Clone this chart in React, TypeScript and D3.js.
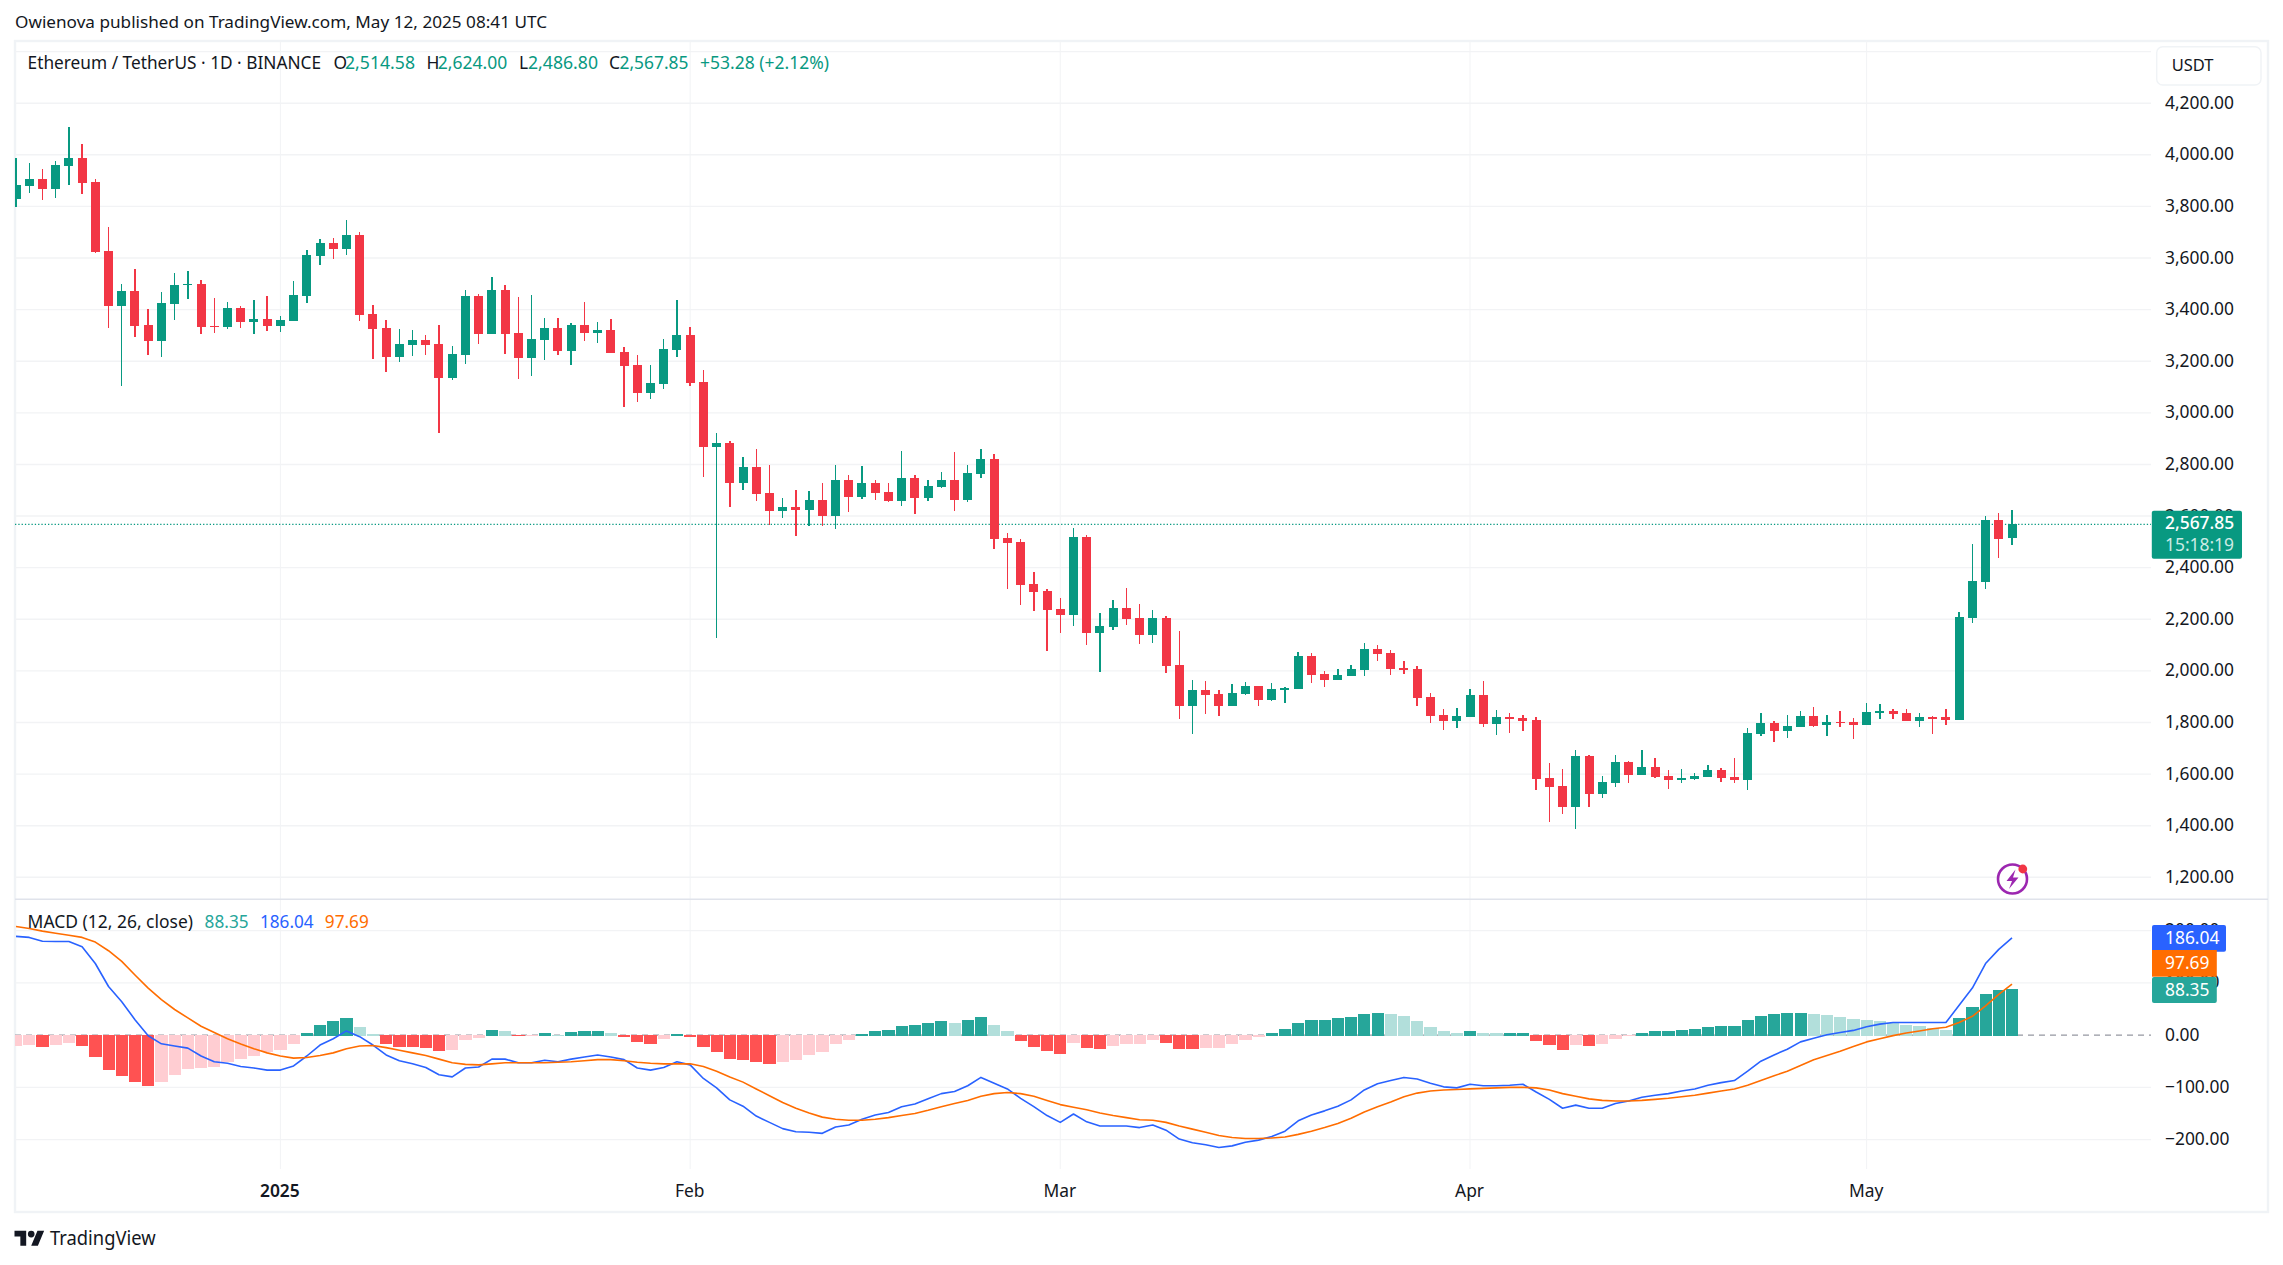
import React from "react";
import * as d3 from "d3";

// ---------- data (Dec 12 2024 .. May 12 2025, daily) ----------
const firstDay = new Date(Date.UTC(2024, 11, 12));
const lastDay = new Date(Date.UTC(2025, 4, 12));

const opens = [3829,3880,3907,3868,3957,3988,3895,3627,3414,3472,3341,3279,3422,3496,3500,3337,3333,3407,3352,3364,
3337,3356,3453,3608,3659,3635,3690,3383,3329,3217,3263,3283,3267,3135,3224,3453,3306,3476,3310,3213,3283,3329,3240,3341,3310,3321,3236,3186,3077,3112,3244,3302,3120,2868,2883,2728,2790,
2690,2620,2635,2624,2663,2600,2740,2674,2728,2694,2659,2748,2670,2713,2740,2663,2763,2821,2515,2500,2337,2310,2240,2217,2519,2147,2170,2244,2205,2139,2205,2023,1864,1926,1911,1864,1911,1942,1887,1926,1930,2058,1988,1965,1980,2004,2085,2069,2011,2007,1899,1829,1806,1821,1907,
1794,1821,1818,1810,1585,1554,1473,1670,1523,1566,1647,1597,1628,1593,1577,1581,1589,1616,1589,1577,1755,1798,1767,1783,1825,1790,1802,1802,1790,1837,1845,1837,1806,1821,1821,1810,2205,2345,2585,2514.58];

const closes = [3883,3907,3868,3961,3988,3891,3624,3414,3472,3337,3279,3426,3496,3500,3333,3333,3407,3352,3364,3337,
3360,3457,3612,3659,3635,3690,3379,3325,3217,3267,3283,3263,3135,3228,3453,3306,3476,3306,3213,3286,3329,3240,3341,3310,3321,3232,3182,3077,3116,3248,3302,3116,2868,2883,2728,2790,2686,
2620,2635,2624,2663,2600,2740,2674,2728,2690,2659,2748,2670,2717,2740,2663,2767,2821,2511,2496,2333,2306,2236,2217,2519,2147,2174,2244,2201,2139,2205,2019,1864,1926,1907,1864,1914,1942,1887,1930,1934,2058,1984,1965,1984,2007,2085,2066,2007,2004,1895,1825,1806,1825,1907,1794,
1821,1818,1806,1581,1550,1473,1670,1523,1569,1647,1597,1628,1589,1577,1585,1593,1616,1585,1577,1759,1798,1767,1787,1825,1787,1802,1798,1790,1841,1845,1833,1806,1821,1818,1810,2209,2349,2585,2511,2567.85];

const highs = [3989,3969,3945,3976,4108,4042,3907,3720,3500,3558,3403,3469,3542,3550,3515,3445,3430,3414,3438,3453,
3376,3511,3631,3674,3678,3748,3701,3418,3360,3325,3321,3302,3341,3259,3476,3461,3527,3496,3449,3457,3368,3368,3348,3430,3352,3364,3255,3224,3186,3286,3438,3333,3166,2922,2891,2829,2860,
2798,2670,2701,2697,2728,2798,2759,2794,2740,2728,2852,2759,2740,2771,2849,2798,2860,2841,2535,2511,2383,2318,2283,2554,2527,2225,2275,2321,2259,2236,2213,2155,1965,1961,1926,1949,1957,1942,1953,1938,2073,2069,2000,2007,2023,2108,2100,2081,2038,2019,1914,1852,1856,1930,1961,
1849,1837,1829,1821,1643,1620,1693,1674,1593,1674,1651,1693,1662,1616,1620,1604,1635,1624,1662,1779,1837,1806,1829,1845,1860,1829,1845,1818,1876,1872,1852,1852,1837,1825,1852,2228,2492,2600,2612,2624];

const lows = [3799,3852,3825,3833,3883,3848,3620,3329,3104,3294,3224,3217,3360,3441,3306,3310,3325,3329,3306,3317,
3314,3356,3426,3573,3597,3612,3356,3209,3158,3197,3220,3224,2922,3127,3190,3267,3306,3228,3131,3143,3205,3224,3186,3279,3271,3232,3023,3042,3054,3093,3217,3104,2752,2128,2635,2701,2659,
2566,2593,2523,2562,2562,2550,2616,2666,2663,2655,2639,2608,2659,2709,2620,2655,2748,2473,2318,2256,2232,2077,2147,2174,2100,1996,2159,2178,2104,2108,1992,1814,1756,1833,1825,1864,1907,1864,1883,1876,1930,1953,1938,1965,1980,1980,2038,1984,1988,1864,1798,1771,1779,1821,1783,
1752,1759,1767,1538,1414,1445,1387,1473,1507,1550,1566,1597,1585,1542,1566,1577,1589,1569,1566,1538,1748,1725,1740,1783,1783,1748,1783,1736,1790,1814,1814,1806,1783,1755,1790,1810,2186,2318,2438,2486.8];

const histogram = [-20.5,-18.6,-22.4,-18.6,-14.7,-20.5,-41.7,-66.7,-78.2,-89.7,-97.4,-89.7,-76.3,-64.7,-62.8,-60.9,-51.3,-45.5,-39.7,-32,
-28,-16.7,4.5,19.9,27.6,33.3,16,2.6,-16.7,-22.4,-22.6,-24.4,-30.1,-28.2,-9,-5,10.3,8.3,-1.3,-1.3,4.5,0.6,6.4,8.3,8.3,4.5,-3.2,-12.8,-16.7,-7,2.6,-3.2,-22.4,-32,-45.5,-47.4,-51.3,
-55.1,-51.3,-47.4,-37.8,-32,-16.7,-9,2.6,8.3,10.3,17.9,19.9,23.7,27.6,23.7,29.5,35.3,19.9,8.3,-10.9,-22.4,-30.1,-35.9,-14.7,-24.4,-26.3,-20.5,-16.7,-16.5,-9,-14.7,-26.3,-26.6,-24.4,-24.2,-16.7,-9,-3.2,4.5,12.2,23.7,29.5,29.5,33.3,35.3,41,42.9,41,37.2,27.6,16,8.3,4.5,8.3,4.5,4.3,4.5,
4.5,-10.9,-18.6,-28.2,-18.6,-20.5,-16.7,-7,-1.3,4.5,8.3,8.3,10.3,12.2,16,17.9,17.9,29.5,37.2,41,42.9,42.9,41,39.1,35.3,31.4,29.5,27.6,23.7,19.9,17.9,14.1,10.3,33.3,54.5,79.5,87.2,88.35];

const macdLine = [189,187,179.5,179,179,169,137,93,64,29.5,-1.3,-16.7,-21,-25,-40,-51,-54,-60,-63,-67,
-67,-59,-40,-19,-7,8,-3,-19,-38,-49,-55,-62,-76,-80,-63,-61,-46,-46,-53,-53,-48,-51,-46,-42,-38,-42,-47,-63,-67,-62,-51,-57,-83,-101,-124,-136,-155,
-167,-179,-185,-186,-188,-176,-172,-161,-153,-148,-137,-132,-122,-112,-108,-97,-81,-92,-103,-121,-137,-154,-167,-151,-166,-174,-174,-174,-177,-172,-182,-199,-206,-210,-215,-212,-205,-201,-194,-184,-164,-153,-145,-136,-124,-105,-93,-87,-81,-84,-92,-99,-101,-94,-97,-97,-96,
-94,-109,-123,-140,-134,-140,-140,-131,-126,-119,-115,-112,-107,-103,-96,-91,-87,-69,-50,-38,-27,-13,-6,0.6,5,9,16,21,24,24,24,24,24,57,90,137,164,186.04];

const signalLine = [208,204,199,195,191,187,178,161.5,141,115,90,68,49,33,17,5,-7,-17,-26,-34,
-40,-44,-43,-39,-34,-26,-21,-20,-24,-29,-34,-39,-46,-53,-56,-57,-55,-53,-53,-53,-53,-52,-51,-49,-47,-47,-49,-52,-54,-55,-55,-55,-60,-69,-80,-90,-103,
-116,-129,-140,-149,-157,-161,-163,-163,-161,-158,-154,-150,-144,-137,-131,-125,-117,-112,-110,-112,-117,-125,-133,-138,-143,-149,-154,-158,-162,-163,-167,-174,-180,-186,-192,-196,-198,-198,-197,-195,-190,-184,-177,-169,-159,-147,-137,-128,-118,-111,-107,-105,-104,-103,-102,-101,-100,
-100,-101,-105,-112,-117,-122,-125,-126,-126,-125,-123,-121,-118,-115,-111,-107,-103,-96,-87,-78,-69,-58,-47,-39,-31,-22,-13,-7,-1,4,8,12,15,24,36,56,78,97.69];

const priceTicks = [4200,4000,3800,3600,3400,3200,3000,2800,2600,2400,2200,2000,1800,1600,1400,1200];
const priceGrid = [4400, ...priceTicks];
const macdTicks = [200,100,0,-100,-200];
const timeTicks = [
  { label: "2025", date: new Date(Date.UTC(2025, 0, 1)), strong: true },
  { label: "Feb", date: new Date(Date.UTC(2025, 1, 1)), strong: false },
  { label: "Mar", date: new Date(Date.UTC(2025, 2, 1)), strong: false },
  { label: "Apr", date: new Date(Date.UTC(2025, 3, 1)), strong: false },
  { label: "May", date: new Date(Date.UTC(2025, 4, 1)), strong: false },
];
const lastClose = 2567.85;

// ---------- styling ----------
const UP = "#089981", DOWN = "#F23645";
const H_UP = "#26a69a", H_UP_L = "#b2dfdb", H_DN = "#ff5252", H_DN_L = "#ffcdd2";
const BLUE = "#2962ff", ORANGE = "#ff6d00";
const INK = "#131722", GRID = "#f2f3f5", FRAME = "#f0f3f6", DIVIDER = "#e0e3eb";
const FONT = "'Noto Sans', sans-serif";
const FS = 17.4;
const TEXT_SHIFT = -1.4;

const L = 15, R = 2268, T = 41, B = 1212, PANE_R = 2151;

const days = d3.utcDay.range(firstDay, d3.utcDay.offset(lastDay, 1));
const x = d3.scaleUtc().domain([firstDay, lastDay]).range([16, 2012]);
const yP = d3.scaleLinear().domain([4400, 1200]).range([51.6, 877.3]);
const yM = d3.scaleLinear().domain([200, -200]).range([930.6, 1139.6]);
const fmt = d3.format(",.2f");

const macdPath = d3.line<number>().x((_, i) => x(days[i])).y((d) => yM(d))(macdLine) as string;
const signalPath = d3.line<number>().x((_, i) => x(days[i])).y((d) => yM(d))(signalLine) as string;

function Txt(p: { x: number; y: number; fill?: string; w?: number; size?: number; weight?: number; anchor?: string; children: any }) {
  const extra: any = p.w ? { textLength: p.w, lengthAdjust: "spacingAndGlyphs" } : {};
  return (
    <text x={p.x} y={p.y + TEXT_SHIFT} dominantBaseline="central" fill={p.fill ?? INK} fontSize={p.size ?? FS}
      fontWeight={p.weight ?? 400} textAnchor={(p.anchor ?? "start") as any} fontFamily={FONT} {...extra}>
      {p.children}
    </text>
  );
}

export default function App() {
  return (
    <svg width={2283} height={1265} viewBox="0 0 2283 1265"
      style={{ position: "absolute", left: 0, top: 0, display: "block", background: "#ffffff" }}>
      <defs>
        <clipPath id="pane"><rect x={L} y={T} width={PANE_R - L} height={B - T} /></clipPath>
      </defs>

      <Txt x={15} y={23} w={532} size={17}>Owienova published on TradingView.com, May 12, 2025 08:41 UTC</Txt>

      {/* frame */}
      <rect x={L} y={T} width={R - L} height={B - T} fill="none" stroke={FRAME} strokeWidth={2.4} />

      {/* grid */}
      <g stroke={GRID} strokeWidth={1.4}>
        {priceGrid.map((t) => <line key={t} x1={L} x2={PANE_R} y1={yP(t)} y2={yP(t)} />)}
        {macdTicks.filter((t) => t !== 0).map((t) => <line key={t} x1={L} x2={PANE_R} y1={yM(t)} y2={yM(t)} />)}
      </g>
      <g stroke={GRID} strokeWidth={1}>
        {timeTicks.map((t) => <line key={t.label} x1={x(t.date)} x2={x(t.date)} y1={T} y2={1169} />)}
      </g>
      <line x1={L} x2={R} y1={899.3} y2={899.3} stroke={DIVIDER} strokeWidth={1.4} />

      {/* last price line */}
      <line x1={L} x2={PANE_R} y1={yP(lastClose)} y2={yP(lastClose)} stroke={UP} strokeWidth={1.2} strokeDasharray="1.3 2" />

      {/* candles */}
      <g clipPath="url(#pane)" shapeRendering="crispEdges">
        {days.map((d, i) => {
          const up = closes[i] >= opens[i];
          const c = up ? UP : DOWN;
          const top = yP(Math.max(opens[i], closes[i]));
          const bot = yP(Math.min(opens[i], closes[i]));
          return (
            <g key={i}>
              <line x1={x(d)} x2={x(d)} y1={yP(highs[i])} y2={yP(lows[i])} stroke={c} strokeWidth={1.4} />
              <rect x={x(d) - 4.5} y={top} width={9} height={Math.max(1.5, bot - top)} fill={c} />
            </g>
          );
        })}
      </g>

      {/* MACD zero line */}
      <line x1={L} x2={PANE_R} y1={yM(0)} y2={yM(0)} stroke="#9598a1" strokeWidth={1.2} strokeDasharray="6 5" />

      {/* histogram */}
      <g clipPath="url(#pane)" shapeRendering="crispEdges">
        {days.map((d, i) => {
          const v = histogram[i];
          const prev = i > 0 ? histogram[i - 1] : v;
          const fill = v >= 0 ? (v >= prev ? H_UP : H_UP_L) : (v < prev ? H_DN : H_DN_L);
          const y0 = yM(0) + (v >= 0 ? 1 : 0);
          const y1 = yM(v);
          return <rect key={i} x={x(d) - 6} width={12.2} y={Math.min(y0, y1)} height={Math.abs(y1 - y0)} fill={fill} />;
        })}
      </g>

      {/* MACD lines */}
      <g clipPath="url(#pane)" fill="none" strokeWidth={1.6} strokeLinejoin="round">
        <path d={macdPath} stroke={BLUE} />
        <path d={signalPath} stroke={ORANGE} />
      </g>

      {/* legend */}
      <Txt x={27.6} y={63.7} w={293.5}>Ethereum / TetherUS · 1D · BINANCE</Txt>
      <Txt x={333.5} y={63.7}>O</Txt><Txt x={345} y={63.7} fill={UP} w={70}>{fmt(opens[opens.length - 1])}</Txt>
      <Txt x={426.6} y={63.7}>H</Txt><Txt x={437.7} y={63.7} fill={UP} w={69.5}>{fmt(highs[highs.length - 1])}</Txt>
      <Txt x={519} y={63.7}>L</Txt><Txt x={528} y={63.7} fill={UP} w={70}>{fmt(lows[lows.length - 1])}</Txt>
      <Txt x={609} y={63.7}>C</Txt><Txt x={619.5} y={63.7} fill={UP} w={69}>{fmt(lastClose)}</Txt>
      <Txt x={700} y={63.7} fill={UP} w={129}>+53.28 (+2.12%)</Txt>

      <Txt x={27.6} y={922.7} w={165.4}>MACD (12, 26, close)</Txt>
      <Txt x={204.6} y={922.7} fill={H_UP} w={44}>{fmt(88.35)}</Txt>
      <Txt x={260} y={922.7} fill={BLUE} w={53.6}>{fmt(186.04)}</Txt>
      <Txt x={324.8} y={922.7} fill={ORANGE} w={44}>{fmt(97.69)}</Txt>

      {/* price axis */}
      {priceTicks.map((t) => <Txt key={t} x={2165} y={yP(t)}>{fmt(t)}</Txt>)}
      <rect x={2156.7} y={46.7} width={104.3} height={38.3} rx={6} fill="#fff" stroke={FRAME} strokeWidth={1.4} />
      <Txt x={2171.7} y={65.7} size={16.5}>USDT</Txt>

      <rect x={2151.8} y={510.7} width={90.2} height={48} rx={2} fill={UP} />
      <Txt x={2165} y={523.7} fill="#fff" weight={500}>{fmt(lastClose)}</Txt>
      <Txt x={2165} y={545} fill="#cdebe5">15:18:19</Txt>

      {/* MACD axis */}
      {macdTicks.map((t) => <Txt key={t} x={2165} y={yM(t)}>{fmt(t)}</Txt>)}
      <rect x={2152} y={925} width={74} height={26.7} rx={2} fill={BLUE} />
      <Txt x={2165} y={938.5} fill="#fff">{fmt(186.04)}</Txt>
      <rect x={2152} y={950} width={64.8} height={26.7} fill={ORANGE} />
      <Txt x={2165} y={963.5} fill="#fff">{fmt(97.69)}</Txt>
      <rect x={2152} y={977} width={64.8} height={26} rx={2} fill={H_UP} />
      <Txt x={2165} y={990} fill="#fff">{fmt(88.35)}</Txt>

      {/* time axis */}
      {timeTicks.map((t) => (
        <Txt key={t.label} x={x(t.date) - 0.5} y={1191.7} anchor="middle" weight={t.strong ? 600 : 400}>{t.label}</Txt>
      ))}

      {/* lightning badge */}
      <circle cx={2012.5} cy={879} r={14.5} fill="#fff" stroke="#9c27b0" strokeWidth={2.6} />
      <path d="M2015.5 869.5 L2006.5 881 L2012 881 L2009 889 L2018.5 877.5 L2013 877.5 Z" fill="#9c27b0" />
      <circle cx={2022.8} cy={869} r={4.4} fill={DOWN} />

      {/* TradingView mark */}
      <g transform="translate(14.5 1227.4) scale(0.835)" fill={INK}>
        <path d="M14 22H7V11H0V4h14v18zM28 22h-8l7.5-18h8L28 22z" />
        <circle cx={20} cy={8} r={4} />
      </g>
      <Txt x={50} y={1239} w={105.6} size={19.5}>TradingView</Txt>
    </svg>
  );
}
